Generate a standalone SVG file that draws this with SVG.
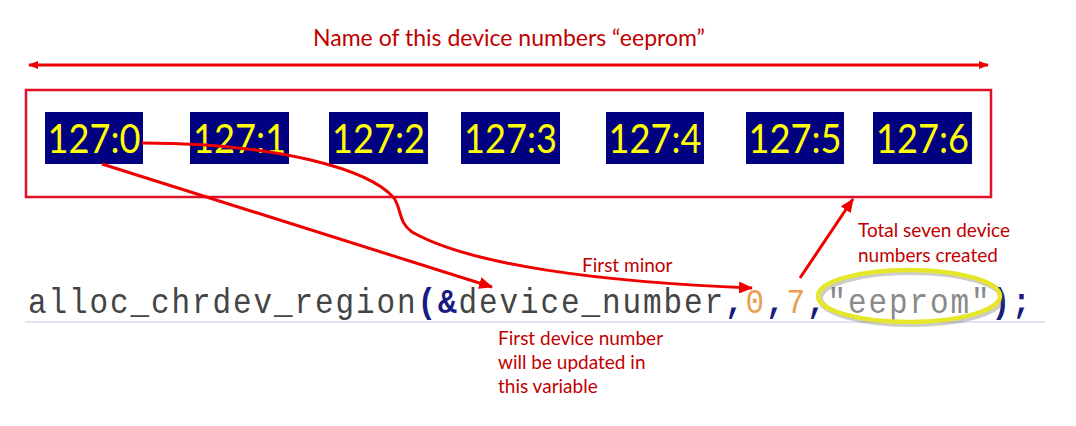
<svg xmlns="http://www.w3.org/2000/svg" width="1076" height="426" viewBox="0 0 1076 426">
<style>
.note{font-family:Lato,"Open Sans","Liberation Sans",sans-serif;fill:#c00000;}
.box rect{fill:#000080;}
.box text{font-family:Lato,"Open Sans","Liberation Sans",sans-serif;font-size:40px;fill:#ffff00;text-anchor:middle;}
.conn{fill:none;stroke:#ee0000;stroke-width:3;}
.code{font-family:"Liberation Mono","Courier New",monospace;font-size:31px;letter-spacing:1.9px;}
.n{fill:#1a1a80;font-weight:bold;}
.g{fill:#444444;}
.o{fill:#e8a050;}
.s{fill:#8a8a8a;}
</style>
<defs>
<marker id="ah" viewBox="0 0 14 12" refX="13" refY="6" markerWidth="14" markerHeight="12" markerUnits="userSpaceOnUse" orient="auto-start-reverse">
<path d="M0,0 L14,6 L0,12 Z" fill="#ee0000"/>
</marker>
<marker id="ahs" viewBox="0 0 10 8" refX="9" refY="4" markerWidth="10" markerHeight="8" markerUnits="userSpaceOnUse" orient="auto-start-reverse">
<path d="M0,0 L10,4 L0,8 Z" fill="#ee0000"/>
</marker>
</defs>
<rect width="1076" height="426" fill="#ffffff"/>

<g id="title">
<text class="note" x="509" y="46" font-size="23" text-anchor="middle">Name of this device numbers “eeprom”</text>
</g>

<g id="frame">
<rect x="26" y="90" width="965" height="107" fill="none" stroke="#e0102a" stroke-width="2.5"/>
</g>

<g id="n0" class="box"><rect x="45" y="112" width="98" height="52"/><text x="94" y="153" textLength="93" lengthAdjust="spacingAndGlyphs">127:0</text></g>
<g id="n1" class="box"><rect x="190" y="112" width="99" height="52"/><text x="239.5" y="153" textLength="93" lengthAdjust="spacingAndGlyphs">127:1</text></g>
<g id="n2" class="box"><rect x="329" y="112" width="99" height="52"/><text x="378.5" y="153" textLength="93" lengthAdjust="spacingAndGlyphs">127:2</text></g>
<g id="n3" class="box"><rect x="461" y="112" width="99" height="52"/><text x="510.5" y="153" textLength="93" lengthAdjust="spacingAndGlyphs">127:3</text></g>
<g id="n4" class="box"><rect x="606" y="112" width="98" height="52"/><text x="655" y="153" textLength="93" lengthAdjust="spacingAndGlyphs">127:4</text></g>
<g id="n5" class="box"><rect x="746" y="112" width="98" height="52"/><text x="795" y="153" textLength="93" lengthAdjust="spacingAndGlyphs">127:5</text></g>
<g id="n6" class="box"><rect x="873" y="112" width="99" height="52"/><text x="922.5" y="153" textLength="93" lengthAdjust="spacingAndGlyphs">127:6</text></g>

<g id="code">
<line x1="25" y1="322" x2="1045" y2="322" stroke="#dfe5f0" stroke-width="2"/>
<text class="code" transform="translate(28,313) scale(1,1.12)" x="0" y="0"><tspan class="g">alloc_chrdev_region</tspan><tspan class="n">(&amp;</tspan><tspan class="g">device_number</tspan><tspan class="n">,</tspan><tspan class="o">0</tspan><tspan class="n">,</tspan><tspan class="o">7</tspan><tspan class="n">,</tspan><tspan class="s">"eeprom"</tspan><tspan class="n">);</tspan></text>
</g>

<g id="highlight">
<ellipse cx="911" cy="298" rx="91" ry="26" fill="none" stroke="#555555" stroke-opacity="0.3" stroke-width="6"/>
<ellipse cx="909" cy="296" rx="91" ry="26" fill="none" stroke="#e6e62a" stroke-width="4.5"/>
</g>

<g id="labels">
<text class="note" x="582" y="272" font-size="19">First minor</text>
<text class="note" x="858" y="237" font-size="19">Total seven device</text>
<text class="note" x="858" y="262" font-size="19">numbers created</text>
<text class="note" x="498" y="345" font-size="19">First device number</text>
<text class="note" x="498" y="369" font-size="19">will be updated in</text>
<text class="note" x="498" y="393" font-size="19">this variable</text>
</g>

<g id="connectors">
<line class="conn" x1="29" y1="65" x2="988" y2="65" stroke-width="2.5" marker-start="url(#ahs)" marker-end="url(#ahs)"/>
<path class="conn" d="M142,143 C280,143 370,170 394,198 C402,210 398,222 412,232 C470,265 600,282 752,288" marker-end="url(#ah)"/>
<line class="conn" x1="102" y1="164" x2="492" y2="287" marker-end="url(#ah)"/>
<line class="conn" x1="800" y1="278" x2="853" y2="199" marker-end="url(#ah)"/>
</g>
</svg>
